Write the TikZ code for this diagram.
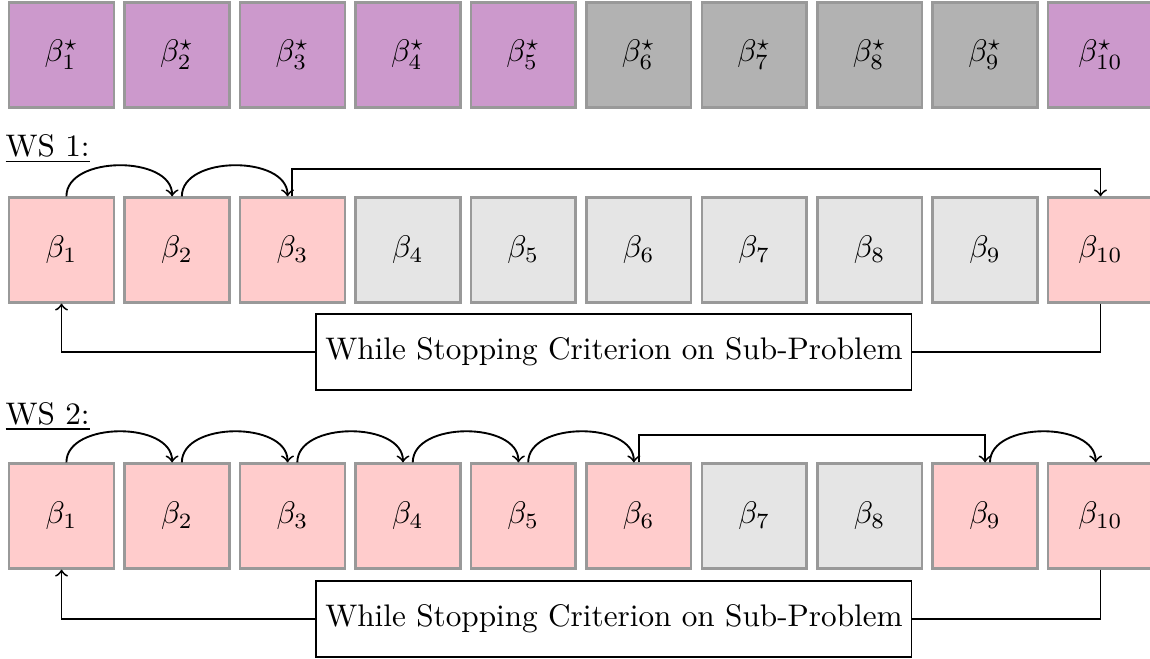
\documentclass[tikz,border=0pt]{standalone}
\usepackage{tikz}
\newcommand{\betabox}[1]{
	\node[draw = gray!80, thick, fill = #1, text = black, minimum size = 1.18cm, inner sep = 0pt]
}
\tikzset{
	crit/.style = {draw, semithick, rectangle, minimum height = 0.85cm, inner xsep = 0.1cm},
	wsl/.style = {anchor = base west, inner sep = 0pt}
}

\begin{document}
\begin{tikzpicture}
		\useasboundingbox (0,0) rectangle (12.95,-7.42);

		% optimal coefficients
		\betabox{violet!40} (s1) at (0.693,-0.619) {$\beta^\star_1$};
		\betabox{violet!40} (s2) at (1.993,-0.619) {$\beta^\star_2$};
		\betabox{violet!40} (s3) at (3.293,-0.619) {$\beta^\star_3$};
		\betabox{violet!40} (s4) at (4.593,-0.619) {$\beta^\star_4$};
		\betabox{violet!40} (s5) at (5.893,-0.619) {$\beta^\star_5$};
		\betabox{gray!60} (s6) at (7.193,-0.619) {$\beta^\star_6$};
		\betabox{gray!60} (s7) at (8.493,-0.619) {$\beta^\star_7$};
		\betabox{gray!60} (s8) at (9.793,-0.619) {$\beta^\star_8$};
		\betabox{gray!60} (s9) at (11.093,-0.619) {$\beta^\star_9$};
		\betabox{violet!40} (s10) at (12.393,-0.619) {$\beta^\star_{10}$};

		% WS 1
		\node[wsl] (ws1) at (0.055,-1.762) {\underline{WS 1:}};
		\betabox{red!20} (a1) at (0.693,-2.815) {$\beta_1$};
		\betabox{red!20} (a2) at (1.993,-2.815) {$\beta_2$};
		\betabox{red!20} (a3) at (3.293,-2.815) {$\beta_3$};
		\betabox{gray!20} (a4) at (4.593,-2.815) {$\beta_4$};
		\betabox{gray!20} (a5) at (5.893,-2.815) {$\beta_5$};
		\betabox{gray!20} (a6) at (7.193,-2.815) {$\beta_6$};
		\betabox{gray!20} (a7) at (8.493,-2.815) {$\beta_7$};
		\betabox{gray!20} (a8) at (9.793,-2.815) {$\beta_8$};
		\betabox{gray!20} (a9) at (11.093,-2.815) {$\beta_9$};
		\betabox{red!20} (a10) at (12.393,-2.815) {$\beta_{10}$};

		\draw [->, semithick] ([xshift=0.055cm]a1.north) to[out=90,in=90] ([xshift=-0.055cm]a2.north);
		\draw [->, semithick] ([xshift=0.055cm]a2.north) to[out=90,in=90] ([xshift=-0.055cm]a3.north);
		\draw [->, semithick] (a3.north) -- ++(0,0.31) -| (a10.north);

		\node[crit] (crit1) at (6.914,-3.964) {While Stopping Criterion on Sub-Problem};
		\draw [semithick] (a10.south) |- (crit1.east);
		\draw [->, semithick] (crit1.west) -| (a1.south);

		% WS 2
		\node[wsl] (ws2) at (0.055,-4.775) {\underline{WS 2:}};
		\betabox{red!20} (b1) at (0.693,-5.811) {$\beta_1$};
		\betabox{red!20} (b2) at (1.993,-5.811) {$\beta_2$};
		\betabox{red!20} (b3) at (3.293,-5.811) {$\beta_3$};
		\betabox{red!20} (b4) at (4.593,-5.811) {$\beta_4$};
		\betabox{red!20} (b5) at (5.893,-5.811) {$\beta_5$};
		\betabox{red!20} (b6) at (7.193,-5.811) {$\beta_6$};
		\betabox{gray!20} (b7) at (8.493,-5.811) {$\beta_7$};
		\betabox{gray!20} (b8) at (9.793,-5.811) {$\beta_8$};
		\betabox{red!20} (b9) at (11.093,-5.811) {$\beta_9$};
		\betabox{red!20} (b10) at (12.393,-5.811) {$\beta_{10}$};

		\draw [->, semithick] ([xshift=0.055cm]b1.north) to[out=90,in=90] ([xshift=-0.055cm]b2.north);
		\draw [->, semithick] ([xshift=0.055cm]b2.north) to[out=90,in=90] ([xshift=-0.055cm]b3.north);
		\draw [->, semithick] ([xshift=0.055cm]b3.north) to[out=90,in=90] ([xshift=-0.055cm]b4.north);
		\draw [->, semithick] ([xshift=0.055cm]b4.north) to[out=90,in=90] ([xshift=-0.055cm]b5.north);
		\draw [->, semithick] ([xshift=0.055cm]b5.north) to[out=90,in=90] ([xshift=-0.055cm]b6.north);
		\draw [->, semithick] (b6.north) -- ++(0,0.31) -| (b9.north);
		\draw [->, semithick] ([xshift=0.055cm]b9.north) to[out=90,in=90] ([xshift=-0.055cm]b10.north);

		\node[crit] (crit2) at (6.914,-6.97) {While Stopping Criterion on Sub-Problem};
		\draw [semithick] (b10.south) |- (crit2.east);
		\draw [->, semithick] (crit2.west) -| (b1.south);

	\end{tikzpicture}
\end{document}
